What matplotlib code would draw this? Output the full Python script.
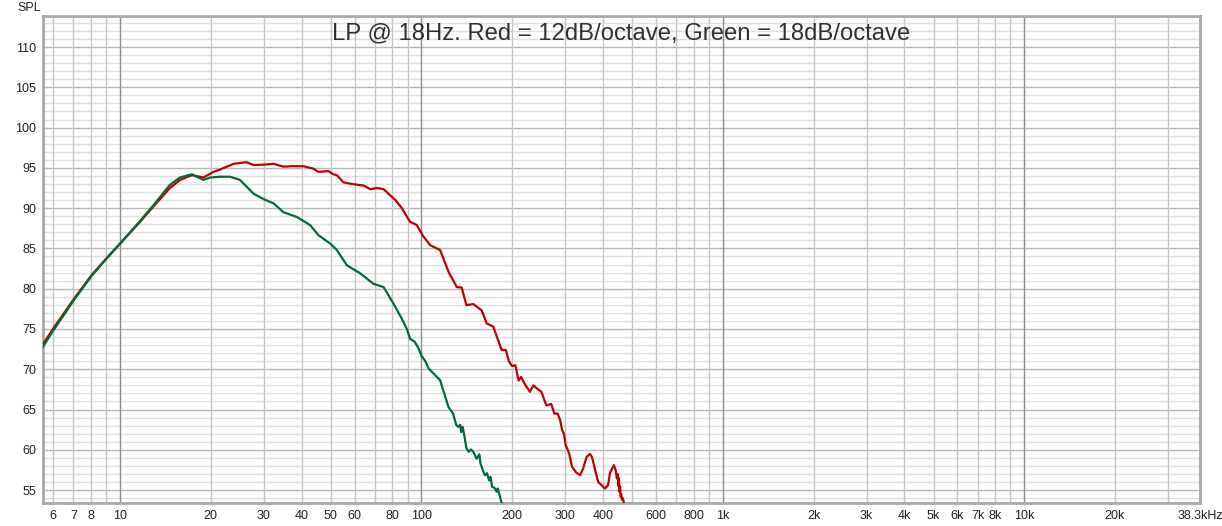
import matplotlib
matplotlib.use('Agg')
import matplotlib.pyplot as plt
from matplotlib.ticker import FixedLocator, FixedFormatter, MultipleLocator

plt.rcParams['font.family'] = ['Liberation Sans', 'DejaVu Sans']

# red trace: LP @ 18Hz, 12dB/octave
red_freq = [5.55, 6.0, 7.05, 8.05, 9.0, 10.0, 11.65, 12.9, 14.6, 15.8, 17.3, 18.9,
            20.4, 21.5, 23.8, 26.3, 27.7, 30.0, 32.3, 34.8, 37.0, 40.6, 43.8, 45.5,
            49.1, 51.0, 52.4, 55.1, 58.8, 64.3, 67.6, 71.1, 74.9, 78.7, 82.0, 86.1,
            91.7, 96.5, 101.4, 106.9, 115.3, 123, 131, 136, 141, 148.6, 158.5, 164.6,
            173, 184.6, 190.6, 195, 199.7, 204.9, 210, 214, 220, 229, 235, 242, 250,
            259.6, 269.5, 276, 283, 288.5, 293, 297, 301, 309, 316, 326, 336, 344,
            353, 362, 368, 377, 386, 396, 406, 416, 422, 427, 435, 441, 445, 448,
            450, 452, 454, 456, 458, 460, 463, 466, 470]
red_db = [73.1, 75.05, 78.8, 81.7, 83.75, 85.6, 88.3, 90.2, 92.45, 93.5, 94.1, 93.8,
          94.5, 94.8, 95.5, 95.7, 95.35, 95.4, 95.5, 95.15, 95.2, 95.2, 94.9, 94.5,
          94.6, 94.2, 94.1, 93.2, 93.0, 92.8, 92.35, 92.5, 92.35, 91.6, 91.0, 90.0,
          88.3, 87.9, 86.5, 85.4, 84.8, 82.1, 80.2, 80.15, 77.95, 78.1, 77.3, 75.7,
          75.3, 72.4, 72.4, 71.0, 70.4, 70.5, 68.6, 69.05, 68.2, 67.2, 68.0, 67.6, 67.2,
          65.5, 65.7, 64.5, 64.5, 63.7, 62.45, 62.0, 60.6, 59.55, 57.9, 57.2, 56.85, 57.7,
          59.1, 59.5, 59.1, 57.5, 56.0, 55.6, 55.2, 55.6, 57.1, 57.5, 58.1, 57.5, 56.45, 57.0,
          55.5, 56.5, 54.8, 55.5, 54.2, 54.5, 53.8, 54.0, 53.3]

# green trace: LP @ 18Hz, 18dB/octave
green_freq = [5.55, 6.0, 7.05, 8.05, 9.0, 10.0, 11.65, 12.9, 14.6, 15.8, 17.3, 18.9,
              19.9, 21.5, 23.2, 25.0, 27.7, 30.0, 32.3, 34.8, 38.6, 42.7, 45.5, 49.8,
              52.4, 56.6, 62.7, 69.3, 74.9, 80.9, 86.0, 89.7, 91.6, 95.0, 97.5, 100,
              103, 105.6, 109.5, 115.3, 119.5, 123, 127.3, 130.5, 132.5, 134.5, 135.5,
              137, 139, 141, 143.5, 146, 148.6, 152.4, 155.6, 157, 159.7, 162.4, 165,
              167.7, 169.5, 171.6, 174.5, 177.8, 179, 181.7, 183.5, 186]
green_db = [72.8, 74.8, 78.65, 81.6, 83.7, 85.6, 88.4, 90.35, 92.85, 93.8, 94.2, 93.5,
            93.8, 93.9, 93.9, 93.5, 91.8, 91.1, 90.6, 89.5, 88.9, 87.9, 86.65, 85.6,
            84.8, 82.9, 81.9, 80.6, 80.2, 78.1, 76.3, 74.9, 73.8, 73.4, 72.7, 71.7,
            71.0, 70.1, 69.5, 68.65, 66.8, 65.3, 64.5, 63.1, 62.85, 63.1, 62.2,
            62.85, 61.6, 60.2, 59.75, 60.05, 59.75, 58.9, 59.45, 58.3, 57.5, 56.85, 57.1,
            56.2, 56.65, 55.4, 55.3, 54.8, 55.2, 54.4, 53.75, 53.0]

decades = [10, 100, 1000, 10000]
decade_labels = ['10', '100', '1k', '10k']
minor_freq = [6, 7, 8, 9, 20, 30, 40, 50, 60, 70, 80, 90,
              200, 300, 400, 500, 600, 700, 800, 900,
              2000, 3000, 4000, 5000, 6000, 7000, 8000, 9000, 20000, 30000, 38300]
minor_labels = ['6', '7', '8', '', '20', '30', '40', '50', '60', '', '80', '',
                '200', '300', '400', '', '600', '', '800', '',
                '2k', '3k', '4k', '5k', '6k', '7k', '8k', '', '20k', '', '38.3kHz']

title = 'LP @ 18Hz. Red = 12dB/octave, Green = 18dB/octave'

fig = plt.figure(figsize=(12.22, 5.26), dpi=100)
ax = fig.add_axes([43 / 1222, 23 / 526, 1157 / 1222, 487 / 526])

ax.plot(red_freq, red_db, color='#c00000', lw=1.6, zorder=3)
ax.plot(green_freq, green_db, color='#006b36', lw=1.6, zorder=4)

ax.set_xscale('log')
ax.set_xlim(5.55, 38300)
ax.set_ylim(53.4, 113.85)

ax.xaxis.set_major_locator(FixedLocator(decades))
ax.xaxis.set_major_formatter(FixedFormatter(decade_labels))
ax.xaxis.set_minor_locator(FixedLocator(minor_freq))
ax.xaxis.set_minor_formatter(FixedFormatter(minor_labels))
ax.yaxis.set_major_locator(MultipleLocator(5))
ax.yaxis.set_minor_locator(MultipleLocator(1))

ax.grid(which='major', axis='x', color='#8c8c8c', lw=1, ls='-')
ax.grid(which='minor', axis='x', color='#c4c4c4', lw=1, ls='-')
ax.grid(which='major', axis='y', color='#b8b8b8', lw=1, ls='-')
ax.grid(which='minor', axis='y', color='#e0e0e0', lw=1, ls='-')
ax.set_axisbelow(True)
# vertical grid lines sit on top of the horizontal ones
ax.yaxis.set_zorder(0.4)
ax.xaxis.set_zorder(0.6)

ax.tick_params(which='both', length=0, labelsize=9, colors='#222222')
ax.tick_params(axis='x', which='both', pad=5)
ax.tick_params(axis='y', which='both', pad=5)

for s in ax.spines.values():
    s.set_color('#a8a8a8')
    s.set_linewidth(2)

ax.text(0.5, 0.965, title, transform=ax.transAxes, ha='center', va='center',
        fontsize=17.2, color='#303030')
fig.text(17 / 1222, 1 - 2 / 526, 'SPL', ha='left', va='top', fontsize=9, color='#222222')

plt.savefig('out.png', dpi=100)
